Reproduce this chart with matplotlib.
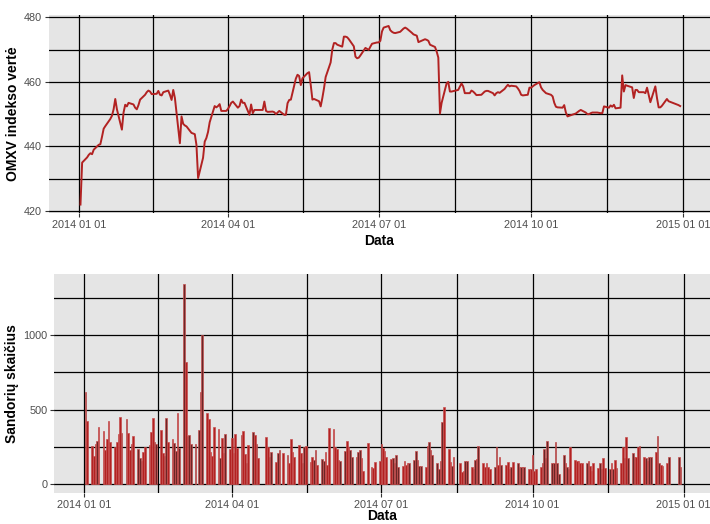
import matplotlib
matplotlib.use("Agg")
import matplotlib.pyplot as plt
import matplotlib.dates as mdates
import numpy as np
import pandas as pd

plt.rcParams['font.family'] = ['Liberation Sans', 'DejaVu Sans']

# Prekybos dienos 2014 (Nasdaq Vilnius), be švenčių
sventes = ['2014-03-11', '2014-04-18', '2014-04-21', '2014-05-01', '2014-06-24',
           '2014-08-15', '2014-12-24', '2014-12-25', '2014-12-26']
datos = pd.bdate_range('2014-01-02', '2014-12-30', freq='C', holidays=sventes)

# OMXV indekso vertė pagal mėnesius
omxv_sau = [422.0, 435.0, 436.6, 437.4, 437.9, 437.6, 439.0, 440.5, 440.7, 443.0, 445.5,
            446.3, 448.5, 449.5, 451.5, 454.7, 451.5, 445.2, 450.5, 452.9, 452.4, 453.5]
omxv_vas = [453.0, 452.0, 451.5, 452.8, 454.5, 456.0, 456.8, 457.3, 457.0, 456.2,
            456.3, 457.2, 456.0, 455.8, 456.8, 457.3, 456.0, 454.4, 457.5, 455.0]
omxv_kov = [441.0, 449.3, 447.0, 446.5, 446.2, 444.2, 443.8, 440.5, 430.2, 436.5,
            441.5, 442.6, 444.5, 447.5, 452.5, 452.1, 452.5, 453.1, 451.0, 451.0]
omxv_bal = [451.6, 452.5, 453.5, 453.9, 452.0, 452.5, 454.5, 453.5, 453.5, 449.8,
            453.0, 450.3, 451.3, 451.3, 453.9, 451.0, 450.7, 450.8, 450.6, 450.0]
omxv_geg = [451.0, 449.8, 449.8, 453.4, 454.4, 454.5, 461.0, 462.2, 461.8, 459.0, 461.1,
            462.7, 463.0, 459.0, 454.5, 454.7, 454.0, 452.4, 455.0, 458.0, 461.5]
omxv_bir = [466.0, 470.0, 472.0, 472.0, 471.5, 470.9, 474.0, 474.0, 473.8, 473.2,
            471.0, 467.8, 467.3, 467.5, 468.2, 470.5, 469.9, 470.9, 471.8, 472.2]
omxv_lie = [472.2, 472.7, 475.6, 476.8, 477.3, 476.0, 475.5, 475.2, 475.1, 475.5, 476.0, 476.5,
            476.8, 476.5, 475.2, 474.7, 474.5, 474.3, 472.3, 473.0, 473.2, 473.0, 472.7]
omxv_rgp = [471.5, 470.8, 469.4, 467.5, 450.2, 453.5, 459.5, 460.0, 457.0, 457.0,
            457.5, 458.5, 459.5, 458.6, 456.5, 456.5, 457.3, 457.0, 456.5, 455.9]
omxv_rgs = [456.0, 456.5, 457.0, 457.2, 457.2, 456.5, 455.8, 456.5, 456.8, 456.6, 457.8,
            458.5, 459.1, 458.6, 458.8, 458.6, 458.0, 457.2, 456.0, 455.8, 456.0, 458.2]
omxv_spa = [458.2, 458.6, 459.0, 459.9, 458.3, 457.5, 457.0, 456.5, 456.0, 455.5, 453.5, 452.3,
            452.1, 452.0, 452.8, 450.5, 449.3, 449.5, 450.0, 450.2, 450.6, 451.0, 451.3]
omxv_lap = [450.5, 450.0, 450.0, 450.3, 450.5, 450.5, 450.4, 450.3, 450.3, 452.4,
            452.0, 452.7, 452.3, 452.9, 451.8, 452.0, 462.0, 457.0, 459.0, 458.8]
omxv_gru = [458.3, 455.0, 457.5, 457.5, 456.8, 456.8, 456.5, 458.2, 456.0, 453.7,
            458.6, 455.0, 452.1, 452.1, 452.6, 454.7, 454.0, 452.8, 452.5]

# Sandorių skaičius pagal mėnesius
sand_sau = [621, 424, 258, 188, 269, 289, 386, 359, 229, 303, 426,
            285, 251, 285, 336, 453, 345, 437, 341, 229, 269, 323]
sand_vas = [235, 177, 155, 213, 250, 262, 348, 446, 285, 270,
            363, 206, 188, 446, 285, 300, 274, 222, 480, 240]
sand_kov = [1345, 818, 325, 330, 269, 269, 363, 617, 1002, 475,
            437, 217, 188, 381, 368, 177, 307, 211, 337, 235]
sand_bal = [307, 211, 336, 240, 330, 359, 202, 139, 262, 352,
            330, 269, 173, 314, 247, 184, 217, 150, 211, 229]
sand_geg = [211, 195, 139, 300, 217, 179, 262, 211, 143, 251, 256,
            150, 184, 161, 229, 128, 166, 157, 217, 130, 374]
sand_bir = [368, 251, 233, 161, 157, 222, 291, 251, 229, 184,
            184, 217, 229, 173, 87, 274, 117, 110, 150, 157]
sand_lie = [269, 240, 224, 184, 166, 177, 139, 195, 117, 121, 157, 128,
            139, 139, 161, 222, 161, 121, 121, 117, 256, 285, 229]
sand_rgp = [195, 143, 99, 155, 419, 520, 233, 150, 121, 179,
            143, 83, 90, 157, 157, 117, 99, 161, 166, 256]
sand_rgs = [143, 117, 143, 112, 99, 112, 251, 128, 179, 128, 128,
            150, 99, 117, 150, 139, 117, 112, 112, 112, 99, 99]
sand_spa = [195, 90, 101, 117, 139, 235, 173, 289, 143, 139, 285, 143,
            70, 195, 139, 112, 99, 247, 161, 157, 157, 143, 143]
sand_lap = [143, 157, 121, 87, 143, 105, 139, 99, 177, 105,
            99, 143, 99, 161, 105, 143, 251, 173, 318, 173]
sand_gru = [206, 184, 179, 247, 256, 179, 173, 157, 179, 179,
            217, 325, 139, 128, 121, 143, 179, 179, 117]

omxv = np.array(omxv_sau + omxv_vas + omxv_kov + omxv_bal + omxv_geg + omxv_bir +
                omxv_lie + omxv_rgp + omxv_rgs + omxv_spa + omxv_lap + omxv_gru)
sandoriai = np.array(sand_sau + sand_vas + sand_kov + sand_bal + sand_geg + sand_bir +
                     sand_lie + sand_rgp + sand_rgs + sand_spa + sand_lap + sand_gru)

raudona = '#B22222'
tamsi = '#6B2626'
fonas = '#E5E5E5'

x_min = pd.Timestamp('2013-12-14')
x_max = pd.Timestamp('2015-01-17')
pagr_datos = pd.to_datetime(['2014-01-01', '2014-04-01', '2014-07-01', '2014-10-01', '2015-01-01'])
sal_datos = pagr_datos[:-1] + (pagr_datos[1:] - pagr_datos[:-1]) / 2


def stilius(ax, y_pagr, y_sal, ylabel, xpad):
    ax.set_facecolor(fonas)
    for s in ax.spines.values():
        s.set_visible(False)
    ax.set_xlim(x_min, x_max)
    ax.set_xticks(pagr_datos)
    ax.set_xticks(sal_datos, minor=True)
    ax.xaxis.set_major_formatter(mdates.DateFormatter('%Y %m %d'))
    ax.set_yticks(y_pagr)
    ax.set_yticks(y_sal, minor=True)
    ax.grid(which='both', color='black', linewidth=0.9)
    ax.set_axisbelow(True)
    ax.tick_params(which='major', length=3, width=0.8, color='#333333',
                   labelsize=7.8, labelcolor='#4D4D4D', pad=2)
    ax.tick_params(which='minor', length=0)
    ax.set_xlabel('Data', fontsize=10, fontweight='bold', labelpad=xpad)
    ax.set_ylabel(ylabel, fontsize=10, fontweight='bold', labelpad=3)


fig = plt.figure(figsize=(7.1, 5.24), dpi=100)

ax1 = fig.add_axes([49 / 710, 1 - 213.3 / 524, 661 / 710, 198.3 / 524])
ax1.plot(datos, omxv, color=raudona, linewidth=1.4)
ax1.set_ylim(419.3, 480.7)
stilius(ax1, [420, 440, 460, 480], [430, 450, 470], 'OMXV indekso vertė', 3)

ax2 = fig.add_axes([54.3 / 710, 1 - 493.3 / 524, 655.7 / 710, 219.3 / 524])
pokytis = np.diff(omxv, prepend=omxv[0] + 1)
spalvos = [tamsi if p < 0 else raudona for p in pokytis]
ax2.bar(datos, sandoriai, width=1.0, color=spalvos, edgecolor='#C65050', linewidth=0.5)
ax2.set_ylim(-62.5, 1412)
stilius(ax2, [0, 500, 1000], [250, 750, 1250], 'Sandorių skaičius', -1)

fig.savefig('out.png', dpi=100)
